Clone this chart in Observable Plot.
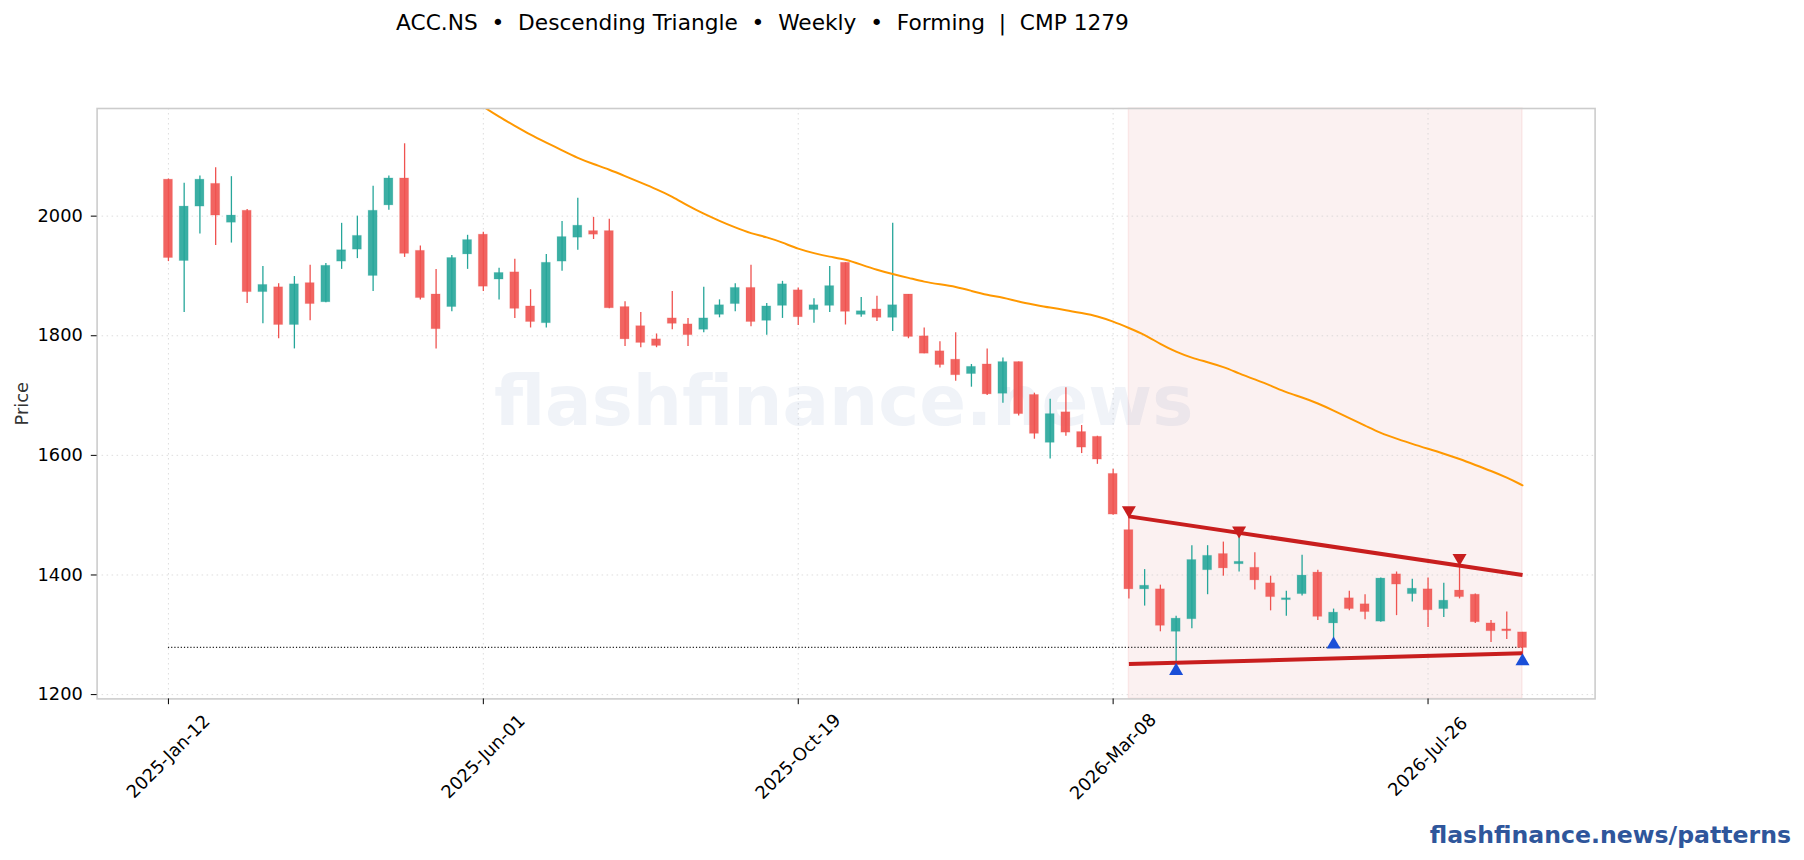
<!DOCTYPE html>
<html>
<head>
<meta charset="utf-8">
<script src="https://cdn.jsdelivr.net/npm/d3@7"></script>
<script src="https://cdn.jsdelivr.net/npm/@observablehq/plot@0.6"></script>
<style>
html,body{margin:0;padding:0;background:#fff;}
#wrap{position:relative;width:1804px;height:860px;overflow:hidden;font-family:"DejaVu Sans",sans-serif;}
#title{position:absolute;left:0;width:1525px;top:9px;text-align:center;font-size:21.7px;line-height:28px;color:#000;white-space:pre;}
#foot{position:absolute;right:13px;top:820px;font-size:23.6px;line-height:30px;font-weight:bold;color:#2f569b;}
svg{display:block;}
</style>
</head>
<body>
<div id="wrap">
<div id="title">ACC.NS  •  Descending Triangle  •  Weekly  •  Forming  |  CMP 1279</div>
<div id="chart"></div>
<div id="foot">flashfinance.news/patterns</div>
</div>
<script>
// Candle data: week index 0..86
const bodyTop = [2061,2016,2061,2054,2001,2009,1885,1881,1886,1888,1917,1943,1967,2009,2063,2063,1942,1869,1930,1960,1969,1905,1906,1849,1922,1965,1984,1975,1975,1848,1816,1794,1829,1819,1829,1851,1880,1880,1849,1886,1876,1851,1883,1922,1841,1844,1851,1869,1799,1774,1760,1748,1752,1756,1756,1701,1669,1672,1639,1631,1569,1475,1382,1376,1327,1425,1432,1435,1422,1412,1386,1361,1399,1404,1337,1361,1351,1394,1401,1377,1376,1357,1374,1367,1319,1309,1304];
const bodyBot = [1930,1925,2016,2001,1989,1873,1873,1818,1818,1853,1856,1924,1944,1900,2018,1937,1863,1811,1848,1936,1882,1894,1845,1823,1821,1924,1964,1969,1846,1794,1788,1783,1820,1801,1810,1835,1853,1823,1825,1850,1831,1843,1850,1840,1835,1830,1830,1798,1770,1751,1734,1736,1702,1703,1669,1636,1621,1638,1613,1593,1501,1376,1376,1315,1305,1326,1408,1411,1418,1391,1363,1358,1368,1330,1319,1343,1338,1322,1384,1368,1341,1343,1363,1321,1306,1306,1278];
const highs = [2062,2055,2067,2081,2066,2011,1916,1887,1899,1918,1921,1988,2000,2050,2067,2121,1950,1911,1934,1968,1973,1913,1928,1877,1936,1991,2030,1998,1995,1857,1839,1803,1874,1829,1881,1860,1887,1918,1854,1891,1880,1862,1916,1922,1864,1866,1988,1869,1813,1790,1805,1752,1778,1763,1756,1704,1694,1713,1650,1632,1577,1505,1409,1383,1331,1449,1449,1455,1471,1437,1398,1373,1433,1408,1343,1373,1367,1395,1405,1393,1395,1386,1425,1368,1324,1338,1304];
const lows = [1924,1839,1970,1951,1955,1854,1820,1795,1778,1825,1855,1911,1929,1874,2010,1931,1860,1778,1840,1911,1874,1860,1829,1813,1813,1908,1943,1961,1845,1782,1780,1780,1810,1782,1805,1830,1840,1815,1801,1829,1817,1821,1839,1818,1831,1824,1807,1795,1770,1746,1724,1714,1700,1687,1666,1627,1594,1632,1603,1585,1500,1360,1348,1305,1243,1310,1367,1398,1405,1375,1340,1331,1365,1324,1287,1340,1325,1321,1332,1355,1312,1329,1360,1319,1287,1292,1259];
const isUp = [0,1,1,0,1,0,1,0,1,0,1,1,1,1,1,0,0,0,1,1,0,1,0,0,1,1,1,0,0,0,0,0,0,0,1,1,1,0,1,1,0,1,1,0,1,0,1,0,0,0,0,1,0,1,0,0,1,0,0,0,0,0,1,0,1,1,1,0,1,0,0,1,1,0,1,0,0,1,0,1,0,1,0,0,0,0,0];

// Moving-average line (index 20..86)
const emaIndex = d3.range(20, 87);
const emaValues = [2183,2166,2151,2136,2123,2110,2097,2087,2078,2067,2056,2045,2033,2017,2004,1992,1981,1971,1965,1956,1945,1938,1932,1928,1919,1910,1903,1897,1890,1886,1882,1875,1868,1864,1857,1852,1847,1843,1838,1833,1824,1813,1802,1786,1773,1763,1756,1748,1737,1727,1717,1705,1697,1687,1675,1662,1650,1637,1628,1619,1611,1603,1594,1584,1574,1563,1550];

// Pattern
const zoneStart = 61, zoneEnd = 86;
const upperTrend = [{i:61,v:1498},{i:86,v:1400}];
const lowerTrend = [{i:61,v:1251},{i:86,v:1269}];
const pivotHighs = [{i:61,v:1505},{i:68,v:1471},{i:82,v:1425}];
const pivotLows = [{i:64,v:1243},{i:74,v:1287},{i:86,v:1259}];
const cmp = 1279;

// Axis labels
const xTicks = [0,20,40,60,80];
const xTickLabels = ["2025-Jan-12","2025-Jun-01","2025-Oct-19","2026-Mar-08","2026-Jul-26"];
const yTicks = [1200,1400,1600,1800,2000];

const candles = bodyTop.map((t,i)=>({i,top:t,bot:bodyBot[i],hi:highs[i],lo:lows[i],up:!!isUp[i]}));
const ema = emaIndex.map((i,k)=>({i,v:emaValues[k]}));
const GREEN="#26a69a", RED="#ef5350";
const col = d=>d.up?GREEN:RED;

const plot = Plot.plot({
  width:1804, height:860,
  marginTop:108, marginBottom:161.6, marginLeft:96.6, marginRight:209.4,
  style:{fontFamily:"'DejaVu Sans',sans-serif",fontSize:"17.8px",color:"#000",background:"#fff"},
  x:{type:"linear",domain:[-4.53,90.61],axis:null},
  y:{type:"linear",domain:[1192.8,2180],axis:null},
  marks:[
    Plot.rectY([{a:zoneStart,b:zoneEnd}],{x1:"a",x2:"b",y1:1192.8,y2:2180,fill:"#c62828",fillOpacity:0.065,stroke:"#d32f2f",strokeOpacity:0.08,strokeWidth:1.5}),
    Plot.gridX(xTicks,{stroke:"#cfcfcf",strokeOpacity:0.7,strokeWidth:1,strokeDasharray:"1.5,3.5"}),
    Plot.gridY(yTicks,{stroke:"#cfcfcf",strokeOpacity:0.7,strokeWidth:1,strokeDasharray:"1.5,3.5"}),
    Plot.text(["flashfinance.news"],{frameAnchor:"middle",dx:-2.5,dy:-1,fontSize:69.1,fontWeight:"bold",fill:"#2c5299",fillOpacity:0.07}),
    Plot.ruleY([cmp],{x1:0,x2:zoneEnd,stroke:"#222",strokeWidth:1.1,strokeDasharray:"1.2,2"}),
    Plot.ruleX(candles,{x:"i",y1:"lo",y2:"hi",stroke:col,strokeWidth:1.3}),
    Plot.rect(candles,{x1:d=>d.i-0.285,x2:d=>d.i+0.285,y1:"bot",y2:"top",fill:col,fillOpacity:0.9,stroke:col,strokeOpacity:0.2,strokeWidth:1}),
    Plot.line(ema,{x:"i",y:"v",stroke:"#ff9800",strokeWidth:2,clip:true,curve:"basis"}),
    Plot.line(upperTrend,{x:"i",y:"v",stroke:"#c81e1e",strokeWidth:4,strokeLinecap:"butt"}),
    Plot.line(lowerTrend,{x:"i",y:"v",stroke:"#c81e1e",strokeWidth:4,strokeLinecap:"butt"}),
    Plot.dot(pivotHighs,{x:"i",y:"v",symbol:"triangle",r:5.2,rotate:180,dy:-2,fill:"#c81e1e",stroke:"none"}),
    Plot.dot(pivotLows,{x:"i",y:"v",symbol:"triangle",r:5.2,dy:2,fill:"#1a4fd8",stroke:"none"}),
    Plot.frame({stroke:"#cccccc",strokeWidth:1.6}),
    Plot.axisY({ticks:yTicks,tickSize:5.8,tickPadding:8.5,tickFormat:d=>String(d),stroke:"#000",fill:"#000",label:null}),
    Plot.axisY({ticks:[],tickSize:0,fill:"#333",label:"Price",labelAnchor:"center",labelArrow:"none",labelOffset:82,dy:1}),
    Plot.axisX({ticks:xTicks,tickSize:5.8,tickFormat:(d,k)=>xTickLabels[xTicks.indexOf(d)],tickRotate:-45,textAnchor:"middle",lineAnchor:"middle",tickPadding:52,stroke:"#000",fill:"#000",label:null})
  ]
});
document.getElementById("chart").appendChild(plot);
</script>
</body>
</html>
